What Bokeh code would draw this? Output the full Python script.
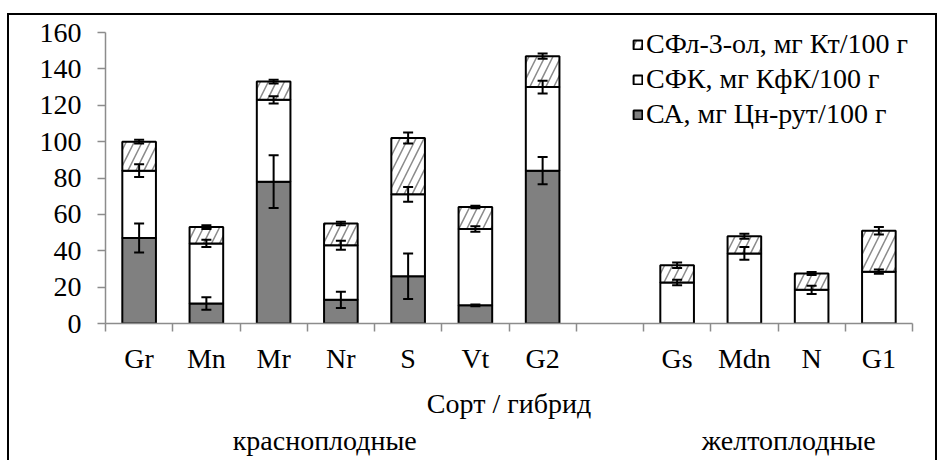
from bokeh.plotting import figure
from bokeh.models import (ColumnDataSource, Whisker, TeeHead, FixedTicker, LinearAxis,
                          Legend, LegendItem, Range1d)
from bokeh.embed import file_html
from bokeh.resources import INLINE

# ---------------- data ----------------
red_names = ["Gr", "Mn", "Mr", "Nr", "S", "Vt", "G2"]
yellow_names = ["Gs", "Mdn", "N", "G1"]
group_labels = ["красноплодные", "желтоплодные"]
x_title = "Сорт / гибрид"
series_names = ["СА, мг Цн-рут/100 г", "СФК, мг КфК/100 г", "СФл-3-ол, мг Кт/100 г"]

# order: Gr Mn Mr Nr S Vt G2 | Gs Mdn N G1
ca = [47, 11, 78, 13, 26, 10, 84, 0, 0, 0, 0]
ca_err = [8, 3.5, 14.5, 4.5, 12.5, 0.5, 7.5, 0, 0, 0, 0]
sfk = [37, 33, 45, 30, 45, 42, 46, 22.5, 38.5, 18.5, 28.5]
sfk_err = [3.5, 2, 2, 2.5, 4, 1.5, 3.5, 1.5, 3.5, 2.3, 1.2]
sfl = [16, 9, 10, 12, 31, 12, 17, 9.5, 9.5, 9, 22.5]
sfl_err = [1, 1, 1, 1, 3, 0.7, 1.5, 1.5, 1.4, 0.8, 2]
y_ticks = [0, 20, 40, 60, 80, 100, 120, 140, 160]

# ---------------- layout ----------------
names = red_names + yellow_names
xs = list(range(len(red_names))) + [len(red_names) + 1 + i for i in range(len(yellow_names))]
n_slots = len(red_names) + 1 + len(yellow_names)
group_pos = [2.76, 9.66]

FONT = "Liberation Serif"
FS = "28px"
GRAY_AX = "#8c8c8c"

p = figure(width=937, height=460, x_range=Range1d(-0.5, n_slots - 0.5), y_range=Range1d(0, 160),
           output_backend="svg", toolbar_location=None,
           min_border_left=105, min_border_right=25, min_border_top=32, min_border_bottom=137)
p.border_fill_color = None
p.outline_line_color = None
p.xgrid.visible = False
p.ygrid.visible = False
p.styles = {"box-shadow": "inset 0 13px 0 0 white, inset 7px 0 0 0 white, "
                          "inset 0 15px 0 0 black, inset 9px 0 0 0 black, "
                          "inset -2px 0 0 0 black"}

b1 = [0] * len(ca)
t1 = ca
b2 = t1
t2 = [a + b for a, b in zip(t1, sfk)]
b3 = t2
t3 = [a + b for a, b in zip(t2, sfl)]

src = ColumnDataSource(dict(x=xs, b1=b1, t1=t1, b2=b2, t2=t2, b3=b3, t3=t3))
r1 = p.vbar(x="x", width=0.5, bottom="b1", top="t1", source=src,
            fill_color="#808080", line_color="black", line_width=2)
r2 = p.vbar(x="x", width=0.5, bottom="b2", top="t2", source=src,
            fill_color="white", line_color="black", line_width=2)
r3 = p.vbar(x="x", width=0.5, bottom="b3", top="t3", source=src,
            fill_color="white", line_color="black", line_width=2,
            hatch_pattern="/", hatch_color="#8a8a8a", hatch_weight=1.5, hatch_scale=16)

for tops, errs in [(t1, ca_err), (t2, sfk_err), (t3, sfl_err)]:
    ex = [x for x, e in zip(xs, errs) if e > 0]
    up = [t + e for t, e in zip(tops, errs) if e > 0]
    lo = [t - e for t, e in zip(tops, errs) if e > 0]
    es = ColumnDataSource(dict(x=ex, u=up, l=lo))
    w = Whisker(base="x", upper="u", lower="l", source=es, line_color="black", line_width=2,
                upper_head=TeeHead(size=10, line_width=2, line_color="black"),
                lower_head=TeeHead(size=10, line_width=2, line_color="black"),
                level="annotation")
    p.add_layout(w)

# y axis
ya = p.yaxis[0]
ya.ticker = FixedTicker(ticks=y_ticks)
ya.axis_line_color = GRAY_AX
ya.axis_line_width = 1.5
ya.major_tick_line_color = GRAY_AX
ya.major_tick_line_width = 1.5
ya.major_tick_out = 8
ya.major_tick_in = 0
ya.minor_tick_line_color = None
ya.major_label_text_font = FONT
ya.major_label_text_font_size = FS
ya.major_label_text_color = "black"
ya.major_label_standoff = 16

# x axis
xa = p.xaxis[0]
xa.ticker = FixedTicker(ticks=xs, minor_ticks=[k - 0.5 for k in range(n_slots + 1)])
xa.major_label_overrides = {x: n for x, n in zip(xs, names)}
xa.axis_line_color = GRAY_AX
xa.axis_line_width = 1.5
xa.major_tick_line_color = None
xa.minor_tick_line_color = GRAY_AX
xa.minor_tick_line_width = 1.5
xa.minor_tick_out = 8
xa.minor_tick_in = 0
xa.major_label_text_font = FONT
xa.major_label_text_font_size = FS
xa.major_label_text_color = "black"
xa.major_label_standoff = 11
xa.axis_label = x_title
xa.axis_label_text_font = FONT
xa.axis_label_text_font_size = FS
xa.axis_label_text_font_style = "normal"
xa.axis_label_text_color = "black"
xa.axis_label_standoff = 11

ga = LinearAxis(ticker=FixedTicker(ticks=group_pos),
                major_label_overrides={g: n for g, n in zip(group_pos, group_labels)})
ga.axis_line_color = None
ga.major_tick_line_color = None
ga.minor_tick_line_color = None
ga.major_tick_out = 0
ga.major_tick_in = 0
ga.major_label_text_font = FONT
ga.major_label_text_font_size = FS
ga.major_label_text_color = "black"
ga.major_label_standoff = 3
p.add_layout(ga, "below")

legend = Legend(items=[LegendItem(label=series_names[2], renderers=[r3]),
                       LegendItem(label=series_names[1], renderers=[r2]),
                       LegendItem(label=series_names[0], renderers=[r1])],
                location=(527, 193), orientation="vertical",
                label_text_font=FONT, label_text_font_size=FS, label_text_color="black",
                glyph_width=11, glyph_height=11, label_standoff=3, spacing=3,
                padding=0, margin=0, border_line_color=None, background_fill_alpha=0)
p.add_layout(legend)

open("out.html", "w").write(file_html(p, INLINE))
